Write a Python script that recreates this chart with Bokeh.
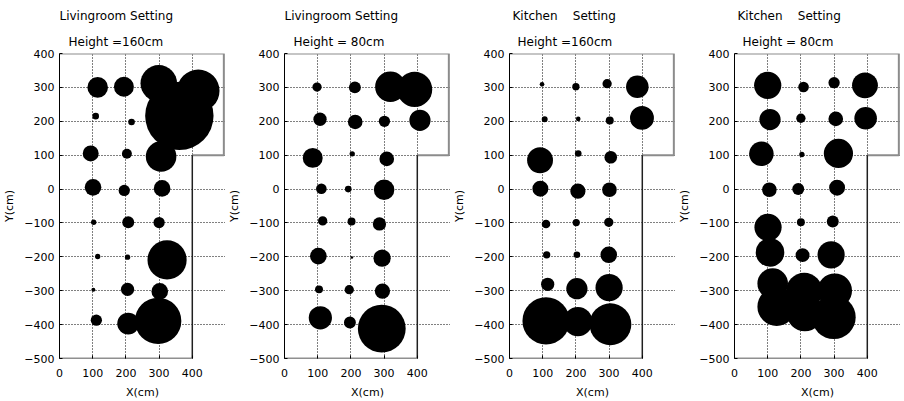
from bokeh.plotting import figure
from bokeh.layouts import row
from bokeh.models import Title, FixedTicker, Range1d
from bokeh.embed import file_html
from bokeh.resources import INLINE

# ---- data ----
x_ticks = [0, 100, 200, 300, 400]
y_ticks = [-500, -400, -300, -200, -100, 0, 100, 200, 300, 400]
room_x = [0, 495, 495, 400, 400, 0]
room_y = [400, 400, 100, 100, -500, -500]

titles_top = ["Livingroom Setting", "Livingroom Setting",
              "Kitchen\u00a0\u00a0\u00a0 Setting", "Kitchen\u00a0\u00a0\u00a0 Setting"]
titles_sub = ["Height =160cm", "Height = 80cm", "Height =160cm", "Height = 80cm"]

# Livingroom, height 160 cm
lr160_x = [115, 194, 299, 418, 361, 109, 217, 94, 203, 306, 101, 195, 309,
           103, 207, 300, 115, 205, 324, 102, 205, 302, 111, 207, 297]
lr160_y = [300, 302, 312, 290, 216, 215, 198, 105, 104, 96, 5, -4, 2,
           -98, -98, -99, -199, -201, -209, -297, -296, -302, -387, -397, -389]
lr160_r = [31, 30, 55, 64, 103, 10, 10, 24, 15, 46, 25, 17, 25,
           8, 18, 17, 8, 8, 59, 6, 20, 25, 17, 33, 70]

# Livingroom, height 80 cm
lr80_x = [98, 212, 319, 392, 107, 213, 301, 408, 85, 204, 308, 111, 192, 300,
          115, 202, 286, 102, 203, 294, 104, 195, 295, 108, 197, 293]
lr80_y = [301, 300, 302, 294, 206, 198, 200, 203, 92, 104, 89, 1, 0, -2,
          -94, -96, -103, -198, -202, -204, -296, -297, -301, -380, -394, -412]
lr80_r = [14, 18, 46, 53, 20, 22, 17, 32, 30, 8, 22, 16, 10, 31,
          14, 12, 20, 25, 4, 26, 12, 14, 23, 35, 18, 72]

# Kitchen, height 160 cm
k160_x = [98, 200, 294, 385, 106, 207, 302, 399, 92, 207, 305, 93, 206, 301,
          110, 201, 299, 112, 203, 299, 115, 203, 300, 110, 206, 304]
k160_y = [309, 302, 311, 302, 206, 207, 202, 210, 85, 105, 94, 1, -6, -2,
          -103, -99, -98, -194, -194, -194, -281, -294, -291, -389, -391, -399]
k160_r = [7, 11, 14, 34, 9, 7, 12, 36, 39, 10, 19, 24, 23, 22,
          13, 11, 14, 11, 10, 25, 20, 32, 41, 71, 44, 63]

# Kitchen, height 80 cm
k80_x = [100, 208, 300, 393, 107, 200, 305, 395, 81, 203, 313, 105, 192, 309,
         101, 200, 296, 107, 205, 291, 115, 127, 210, 212, 302, 299]
k80_y = [306, 301, 314, 306, 205, 209, 207, 209, 104, 102, 105, -2, 0, 4,
         -113, -98, -96, -187, -195, -194, -279, -347, -301, -366, -300, -378]
k80_r = [41, 16, 17, 39, 32, 14, 22, 34, 37, 8, 44, 22, 18, 24,
         41, 12, 18, 43, 21, 41, 46, 58, 55, 55, 52, 66]

series = [(lr160_x, lr160_y, lr160_r), (lr80_x, lr80_y, lr80_r),
          (k160_x, k160_y, k160_r), (k80_x, k80_y, k80_r)]
title_offsets = [(0, 9), (0, 9), (3, 8), (3, 8)]

FONT = "DejaVu Sans"
FS = "11px"
TFS = "12px"


def make_panel(i):
    xs, ys, rs = series[i]
    p = figure(frame_width=166, frame_height=305,
               x_range=Range1d(0, 500), y_range=Range1d(-500, 400),
               output_backend="svg", toolbar_location=None, min_border=0)
    p.min_border_left = 51
    p.min_border_right = 0
    p.min_border_top = 46
    p.min_border_bottom = 40
    p.outline_line_color = None
    p.background_fill_color = "white"
    p.border_fill_color = "white"

    sub = Title(text=titles_sub[i], align="left", offset=title_offsets[i][1],
                text_font=FONT, text_font_size=TFS, text_font_style="normal",
                text_color="black", standoff=9)
    top = Title(text=titles_top[i], align="left", offset=title_offsets[i][0],
                text_font=FONT, text_font_size=TFS, text_font_style="normal",
                text_color="black", standoff=12)
    p.add_layout(sub, "above")
    p.add_layout(top, "above")

    # grid
    p.xgrid.ticker = FixedTicker(ticks=[100, 200, 300, 400])
    p.ygrid.ticker = FixedTicker(ticks=y_ticks)
    for g in (p.xgrid, p.ygrid):
        g.grid_line_color = "black"
        g.grid_line_dash = "1 2"
        g.grid_line_width = 1

    # axes
    p.xaxis.ticker = FixedTicker(ticks=x_ticks)
    p.yaxis.ticker = FixedTicker(ticks=y_ticks)
    for ax in (p.xaxis, p.yaxis):
        ax.major_tick_in = 3
        ax.major_tick_out = 0
        ax.minor_tick_line_color = None
        ax.major_label_text_font = FONT
        ax.major_label_text_font_size = FS
        ax.major_label_text_color = "black"
        ax.axis_label_text_font = FONT
        ax.axis_label_text_font_size = FS
        ax.axis_label_text_font_style = "normal"
        ax.axis_label_text_color = "black"
    p.xaxis.axis_line_color = None
    p.xaxis.major_tick_line_color = "black"
    p.yaxis.axis_line_color = "black"
    p.xaxis.axis_label = "X(cm)"
    p.yaxis.axis_label = "Y(cm)"
    p.xaxis.major_label_standoff = 10
    p.yaxis.major_label_standoff = 5
    p.xaxis.axis_label_standoff = 6
    p.yaxis.axis_label_standoff = 5

    # room outline
    p.line(room_x[:4], room_y[:4], line_color="#8c8c8c", line_width=2)
    p.line(room_x[3:], room_y[3:], line_color="#202020", line_width=1.5)

    # measurement circles
    p.circle(xs, ys, radius=rs, fill_color="black", line_color=None)
    return p


panels = [make_panel(i) for i in range(4)]
layout = row(*panels, spacing=0)
open("out.html", "w").write(file_html(layout, INLINE))
